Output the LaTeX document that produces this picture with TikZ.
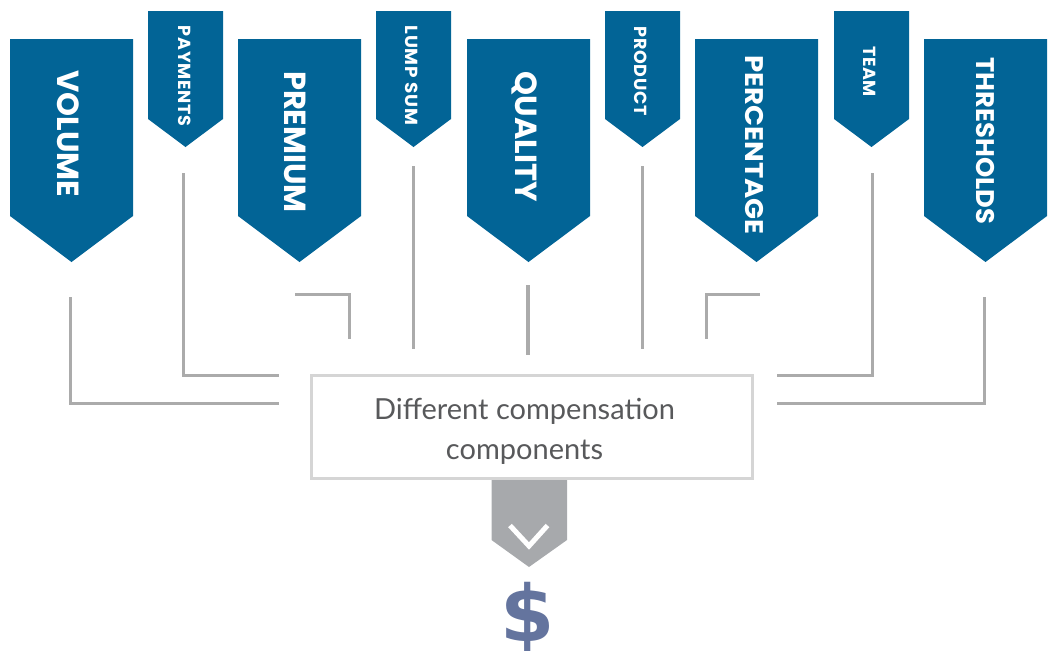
\documentclass[tikz,border=0pt]{standalone}
\usepackage{fontspec}
\setmainfont{Lato}
\newfontfamily\lblfont{Poppins}[BoldFont={Poppins Bold}]
\newfontfamily\smlfont{Poppins}[BoldFont={Poppins Bold},LetterSpace=4]
\newfontfamily\dollarfont{DejaVu Sans}
\definecolor{tagblue}{HTML}{026496}
\definecolor{linegray}{HTML}{ABABAB}
\definecolor{boxgray}{HTML}{D5D5D5}
\definecolor{arrowgray}{HTML}{A7A9AC}
\definecolor{textgray}{HTML}{58595B}
\definecolor{dollarblue}{HTML}{64749E}
\tikzset{
  x=1pt,y=-1pt,
  tagfill/.style={fill=tagblue},
  biglabel/.style={rotate=-90,anchor=base,text=white,inner sep=0pt,font=\fontsize{30.5}{30.5}\lblfont\bfseries},
  midlabel/.style={biglabel,font=\fontsize{25.5}{25.5}\lblfont\bfseries},
  smalllabel/.style={rotate=-90,anchor=base,text=white,inner sep=0pt,font=\fontsize{17.5}{17.5}\smlfont\bfseries},
  wire/.style={draw=linegray,line width=3pt,line join=miter},
}
\newcommand{\bigtag}[1]{\fill[tagfill] (#1-61.5,39) -- (#1+61.5,39) -- (#1+61.5,216) -- (#1,262) -- (#1-61.5,216) -- cycle;}
\newcommand{\smalltag}[1]{\fill[tagfill] (#1-37.5,11) -- (#1+37.5,11) -- (#1+37.5,119) -- (#1,147) -- (#1-37.5,119) -- cycle;}
\begin{document}
\begin{tikzpicture}
\useasboundingbox (0,0) rectangle (1053,651);
\bigtag{71.5}\bigtag{299.5}\bigtag{528.5}\bigtag{756.5}\bigtag{985.5}
\smalltag{185.5}\smalltag{413.5}\smalltag{642.5}\smalltag{871.5}
\node[biglabel] (volume) at (57.5,134) {VOLUME};
\node[biglabel] (premium) at (284.5,142) {PREMIUM};
\node[biglabel] (quality) at (515.5,136.5) {QUALITY};
\node[midlabel] (percentage) at (745,145) {\scalebox{1.08}[1]{PERCENTAGE}};
\node[midlabel] (thresholds) at (976,141) {\scalebox{1.01}[1]{THRESHOLDS}};
\node[smalllabel] (payments) at (178,76) {PAYMENTS};
\node[smalllabel] (lumpsum) at (405,75.5) {\scalebox{1.05}[1]{LUMP SUM}};
\node[smalllabel] (product) at (634,71) {PRODUCT};
\node[smalllabel] (team) at (863,71.5) {TEAM};
\node[draw=boxgray,line width=3pt,fill=white,minimum width=441pt,minimum height=103pt,inner sep=0pt] (box) at (531.5,426.5) {};
\node[inner sep=0pt,align=center,text=textgray,font=\fontsize{29}{40}\selectfont,anchor=center] (boxtext) at (524.5,431) {Different compensation\\components};
\coordinate (a1) at (70.5,297); \coordinate (a2) at (70.5,403); \coordinate (a3) at (279,403);
\coordinate (b1) at (183,173); \coordinate (b2) at (183,375); \coordinate (b3) at (279,375);
\coordinate (c1) at (295,294); \coordinate (c2) at (349.5,294); \coordinate (c3) at (349.5,339);
\coordinate (d1) at (413,166); \coordinate (d2) at (413,349);
\coordinate (e1) at (527.5,285); \coordinate (e2) at (527.5,355);
\coordinate (f1) at (642,166); \coordinate (f2) at (642,349);
\coordinate (g1) at (760,294); \coordinate (g2) at (706,294); \coordinate (g3) at (706,339);
\coordinate (h1) at (872,173); \coordinate (h2) at (872,375); \coordinate (h3) at (777,375);
\coordinate (i1) at (984,297); \coordinate (i2) at (984,403); \coordinate (i3) at (777,403);
\draw[wire] (a1) -- (a2) -- (a3);
\draw[wire] (b1) -- (b2) -- (b3);
\draw[wire] (c1) -- (c2) -- (c3);
\draw[wire] (d1) -- (d2);
\draw[wire,line width=4pt] (e1) -- (e2);
\draw[wire] (f1) -- (f2);
\draw[wire] (g1) -- (g2) -- (g3);
\draw[wire] (h1) -- (h2) -- (h3);
\draw[wire] (i1) -- (i2) -- (i3);
\fill[arrowgray] (491.5,480) -- (567,480) -- (567,540) -- (529,567) -- (491.5,540) -- cycle;
\draw[white,line width=5pt] (510,525.5) -- (529,546) -- (547.5,525.5);
\node[text=dollarblue,inner sep=0pt,anchor=base,font=\fontsize{78}{78}\dollarfont\bfseries] (dollar) at (527.5,641) {\$};
\end{tikzpicture}
\end{document}
